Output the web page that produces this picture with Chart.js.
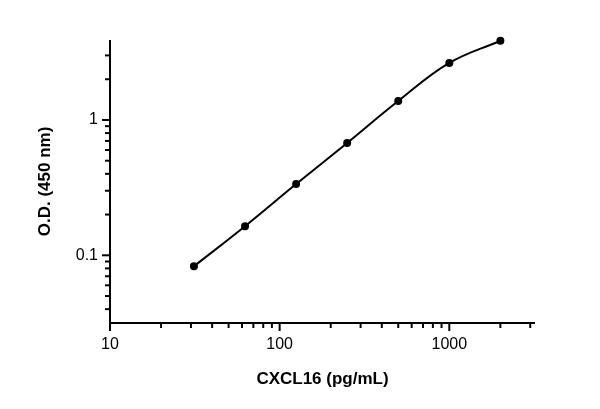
<!DOCTYPE html>
<html>
<head>
<meta charset="utf-8">
<script src="https://cdn.jsdelivr.net/npm/chart.js@4"></script>
<style>
  html, body { margin: 0; padding: 0; background: #fff; }
  #wrap { width: 600px; height: 409px; }
</style>
</head>
<body>
<div id="wrap"><canvas id="chart"></canvas></div>
<script>
// concentrations (pg/mL) and optical density readings
const concentrations = [31.25, 62.5, 125, 250, 500, 1000, 2000];
const odValues       = [0.083, 0.164, 0.336, 0.676, 1.38, 2.64, 3.85];
const xTickLabels    = [10, 100, 1000];
const yTickLabels    = [0.1, 1];

const FONT = '"Liberation Sans", Arial, sans-serif';

// draw Prism-style axes, ticks and labels from the chart's scales
const axesPlugin = {
    id: 'axes',
    afterDraw(chart) {
        const ctx = chart.ctx;
        const xs = chart.scales.x, ys = chart.scales.y;
        const a = chart.chartArea;
        ctx.save();
        ctx.strokeStyle = '#000';
        ctx.fillStyle = '#000';
        ctx.lineWidth = 2;

        // axis lines
        ctx.beginPath();
        ctx.moveTo(a.left, a.top);
        ctx.lineTo(a.left, a.bottom);
        ctx.lineTo(a.right, a.bottom);
        ctx.stroke();

        // x ticks
        for (let d = 10; d < 10000; d *= 10) {
            for (let m = 1; m < 10; m++) {
                const v = d * m;
                if (v < xs.min || v > xs.max) continue;
                const px = xs.getPixelForValue(v);
                const len = m === 1 ? 8 : 5;
                ctx.beginPath();
                ctx.moveTo(px, a.bottom);
                ctx.lineTo(px, a.bottom + len);
                ctx.stroke();
            }
        }
        // y ticks
        for (let d = 0.01; d < 10; d *= 10) {
            for (let m = 1; m < 10; m++) {
                const v = d * m;
                if (v < ys.min || v > ys.max) continue;
                const py = ys.getPixelForValue(v);
                const len = m === 1 ? 8 : 5;
                ctx.beginPath();
                ctx.moveTo(a.left, py);
                ctx.lineTo(a.left - len, py);
                ctx.stroke();
            }
        }

        // tick labels
        ctx.font = '16px ' + FONT;
        ctx.textAlign = 'center';
        ctx.textBaseline = 'top';
        xTickLabels.forEach(v => {
            ctx.fillText(String(v), xs.getPixelForValue(v), a.bottom + 14);
        });
        ctx.textAlign = 'right';
        ctx.textBaseline = 'middle';
        yTickLabels.forEach(v => {
            ctx.fillText(String(v), a.left - 12, ys.getPixelForValue(v));
        });

        // titles
        ctx.font = 'bold 17px ' + FONT;
        ctx.textAlign = 'center';
        ctx.textBaseline = 'middle';
        ctx.fillText('CXCL16 (pg/mL)', (a.left + a.right) / 2, 379);
        ctx.translate(45, (a.top + a.bottom) / 2);
        ctx.rotate(-Math.PI / 2);
        ctx.fillText('O.D. (450 nm)', 0, 0);
        ctx.restore();
    }
};

new Chart(document.getElementById('chart'), {
    type: 'line',
    data: {
        datasets: [{
            data: concentrations.map((c, i) => ({ x: c, y: odValues[i] })),
            borderColor: '#000',
            backgroundColor: '#000',
            borderWidth: 2,
            pointRadius: 3,
            pointHoverRadius: 3,
            tension: 0.4,
            clip: false
        }]
    },
    options: {
        responsive: true,
        maintainAspectRatio: false,
        animation: false,
        layout: { padding: { left: 110, right: 65, top: 40, bottom: 86 } },
        plugins: { legend: { display: false }, tooltip: { enabled: false } },
        scales: {
            x: { type: 'logarithmic', min: 10, max: 3200, display: false },
            y: { type: 'logarithmic', min: 0.0316, max: 3.9, display: false }
        }
    },
    plugins: [axesPlugin]
});
</script>
</body>
</html>
